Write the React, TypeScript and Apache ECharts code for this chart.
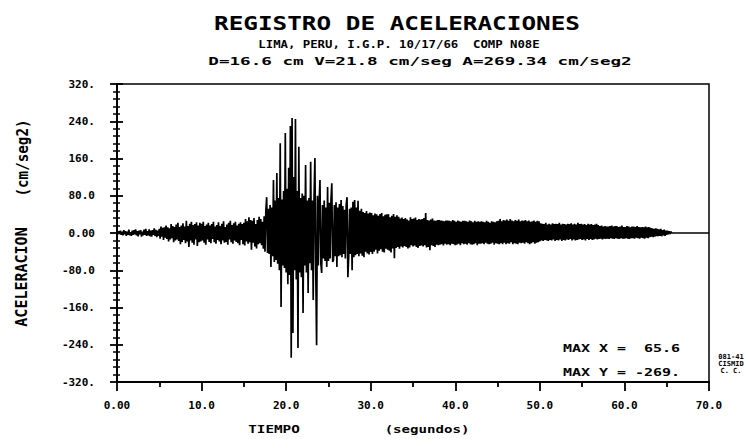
import React, { useEffect, useRef } from "react";
import * as echarts from "echarts";

// ---- data (cm/seg2), sampled every DT seconds, read from the record ----
const DT = 0.1;
const accel = [
  2, -3, 4, -2, 5, -4, 3, -5, 6, -3,
  4, -6, 3, -4, 7, -5, 2, -6, 5, -4,
  6, -3, 8, -5, 4, -7, 5, -3, 6, -8,
  3, -5, 7, -4, 9, -6, 4, -5, 8, -7,
  5, -8, 6, -4, 10, -6, 7, -9, 5, -6,
  9, -12, 14, -8, 11, -15, 12, -10, 16, -13,
  12, -18, 10, -14, 19, -11, 15, -20, 13, -16,
  18, -14, 22, -17, 13, -24, 16, -19, 21, -15,
  14, -22, 26, -18, 15, -30, 20, -16, 24, -21,
  17, -25, 19, -14, 23, -28, 16, -20, 22, -18,
  20, -16, 24, -21, 15, -25, 18, -14, 22, -19,
  16, -22, 19, -13, 24, -20, 14, -23, 17, -15,
  23, -18, 15, -24, 20, -16, 25, -21, 13, -19,
  18, -25, 22, -14, 26, -20, 17, -23, 21, -16,
  24, -19, 16, -22, 20, -26, 23, -15, 19, -24,
  22, -27, 30, -18, 25, -23, 34, -20, 28, -36,
  26, -21, 32, -29, 19, -33, 28, -24, 35, -22,
  30, -26, 24, -34, 36, -40, 48, 77, -43, 52,
  -45, 60, -73, 55, -50, 114, -62, 70, -58, 129,
  -66, 75, -80, 193, -159, 72, -70, 90, -75, 215,
  -85, 95, -110, 140, -90, 230, -268, 247, -215, 120,
  -80, 245, -100, 90, -247, 185, -85, 75, -95, 85,
  -172, 80, -70, 146, -85, 70, -129, 75, -65, 153,
  -80, 70, -144, 75, 161, -75, -241, 80, -70, 65,
  114, -65, -86, 60, -55, 70, -60, 55, -73, 99,
  -60, 65, -55, 70, 107, -62, -58, 60, -50, 66,
  -73, 55, -50, 62, -48, 71, -52, 58, -45, 50,
  -55, 60, 77, -95, -50, 52, -45, 55, -80, 67,
  -52, 71, -48, 55, -45, 69, -50, 48, -44, 52,
  -49, 45, -52, 43, -40, 47, -44, 42, -46, 44,
  -41, 43, -45, 38, -40, 42, -36, 40, -44, 37,
  -38, 41, -35, 43, -40, 36, -42, 39, -34, 40,
  -36, 40, -38, 34, -42, 37, -33, 41, -54, 35,
  -32, 38, -30, 35, -34, 31, -29, 33, -31, 30,
  -28, 32, -30, 29, -33, 27, -31, 34, -26, 30,
  -29, 31, -27, 33, -30, 28, -32, 30, -28, 29,
  -27, 30, -29, 32, -26, 43, -31, 28, -30, 27,
  -37, 29, -26, 31, -28, 27, -30, 26, -25, 28,
  -26, 28, -25, 27, -24, 26, -27, 25, -23, 27,
  -25, 27, -24, 26, -26, 25, -23, 28, -24, 26,
  -26, 24, -25, 27, -23, 25, -26, 24, -22, 26,
  -24, 26, -23, 25, -25, 24, -22, 27, -24, 25,
  -25, 23, -24, 26, -22, 24, -26, 25, -23, 24,
  -23, 25, -22, 24, -24, 23, -21, 26, -23, 24,
  -24, 22, -23, 25, -21, 24, -25, 23, -22, 25,
  -23, 26, -24, 30, -22, 25, -24, 28, -21, 27,
  -24, 29, -22, 26, -23, 30, -20, 27, -24, 25,
  -22, 28, -23, 26, -24, 29, -21, 25, -22, 27,
  -21, 26, -23, 28, -20, 25, -22, 27, -24, 24,
  -22, 25, -20, 27, -23, 24, -21, 26, -20, 25,
  -18, 21, -16, 20, -17, 19, -15, 22, -16, 18,
  -17, 20, -15, 18, -16, 21, -14, 19, -17, 20,
  -15, 19, -16, 22, -14, 18, -17, 20, -15, 19,
  -16, 18, -14, 20, -15, 19, -13, 21, -16, 18,
  -14, 20, -16, 18, -15, 22, -14, 19, -13, 20,
  -15, 18, -14, 19, -16, 17, -13, 20, -15, 18,
  -13, 19, -15, 17, -14, 18, -12, 20, -14, 17,
  -13, 15, -12, 16, -14, 14, -12, 15, -13, 14,
  -12, 14, -13, 15, -11, 16, -12, 14, -13, 15,
  -11, 15, -12, 13, -13, 14, -11, 16, -12, 13,
  -12, 13, -11, 15, -12, 14, -13, 12, -11, 14,
  -11, 14, -12, 13, -10, 15, -11, 13, -12, 12,
  -10, 13, -11, 12, -12, 14, -10, 12, -11, 13,
  -9, 11, -8, 10, -9, 9, -8, 10, -7, 9,
  -7, 8, -6, 9, -7, 6, -5, 7, -6, 5,
  -4, 5, -3, 4, -2, 3,
];
// flat line after the end of the record
const tailTimes = [65.6, 70.0];
const tailAccel = [0, 0];

const X_MIN = 0;
const X_MAX = 70;
const X_STEP = 10;
const Y_MIN = -320;
const Y_MAX = 320;
const Y_STEP = 80;
const xTickLabels = ["0.00", "10.0", "20.0", "30.0", "40.0", "50.0", "60.0", "70.0"];
const yTickLabels = ["-320.", "-240.", "-160.", "-80.0", "0.00", "80.0", "160.", "240.", "320."];

const titleText = "REGISTRO DE ACELERACIONES";
const subtitleText = "LIMA, PERU, I.G.P. 10/17/66  COMP N08E";
const statsText = "D=16.6 cm V=21.8 cm/seg A=269.34 cm/seg2";
const maxXText = "MAX X =  65.6";
const maxYText = "MAX Y = -269.";
const yNameA = "ACELERACION";
const yNameB = "(cm/seg2)";
const xNameA = "TIEMPO";
const xNameB = "(segundos)";
const stampLines = ["081-41", "CISMID", "C. C."];

const MONO = '"DejaVu Sans Mono", monospace';

function txt(
  text: string,
  x: number,
  y: number,
  size: number,
  scaleX: number,
  align: string = "center",
  rotation: number = 0
) {
  return {
    type: "text",
    x,
    y,
    scaleX,
    rotation,
    silent: true,
    style: {
      text,
      x: 0,
      y: 0,
      fill: "#000",
      font: `bold ${size}px ${MONO}`,
      textAlign: align,
      textVerticalAlign: "middle",
    },
  };
}

export default function App() {
  const ref = useRef<HTMLDivElement>(null);
  useEffect(() => {
    const chart = echarts.init(ref.current!, null, { renderer: "svg" });
    const data: number[][] = accel
      .map((v, i) => [Math.round(i * DT * 10) / 10, v])
      .concat(tailTimes.map((t, i) => [t, tailAccel[i]]));

    const labelStyle = {
      color: "#000",
      fontFamily: MONO,
      fontWeight: "bold",
      fontSize: 11,
    };

    const option: any = {
      animation: false,
      backgroundColor: "#fff",
      grid: {
        left: 117,
        right: 42,
        top: 84,
        bottom: 57,
        show: true,
        borderColor: "#000",
        borderWidth: 1.5,
        backgroundColor: "transparent",
        containLabel: false,
        outerBoundsMode: "none",
      },
      xAxis: {
        type: "value",
        min: X_MIN,
        max: X_MAX,
        interval: X_STEP,
        axisLine: { show: true, onZero: false, lineStyle: { color: "#000", width: 2 } },
        axisTick: { show: true, length: 9, lineStyle: { color: "#000", width: 1.8 } },
        minorTick: { show: true, splitNumber: 2, length: 5, lineStyle: { color: "#000", width: 1.8 } },
        splitLine: { show: false },
        minorSplitLine: { show: false },
        axisLabel: {
          ...labelStyle,
          margin: 18,
          formatter: (v: number) => xTickLabels[Math.round((v - X_MIN) / X_STEP)] ?? "",
        },
      },
      yAxis: [
        {
          type: "value",
          position: "left",
          min: Y_MIN,
          max: Y_MAX,
          interval: Y_STEP,
          axisLine: { show: true, onZero: false, lineStyle: { color: "#000", width: 2 } },
          axisTick: { show: true, length: 7, lineStyle: { color: "#000", width: 1.8 } },
          minorTick: { show: true, splitNumber: 5, length: 4, lineStyle: { color: "#000", width: 1.5 } },
          splitLine: { show: false },
          minorSplitLine: { show: false },
          axisLabel: {
            ...labelStyle,
            margin: 22,
            formatter: (v: number) => yTickLabels[Math.round((v - Y_MIN) / Y_STEP)] ?? "",
          },
        },
        {
          type: "value",
          position: "left",
          offset: 0,
          min: Y_MIN,
          max: Y_MAX,
          interval: Y_STEP,
          axisLine: { show: false, onZero: false },
          axisTick: { show: true, inside: true, length: 6, lineStyle: { color: "#000", width: 1.8 } },
          minorTick: { show: true, splitNumber: 5, length: 3, lineStyle: { color: "#000", width: 1.5 } },
          splitLine: { show: false },
          minorSplitLine: { show: false },
          axisLabel: { show: false },
        },
      ],
      series: [
        {
          type: "line",
          xAxisIndex: 0,
          yAxisIndex: 0,
          data,
          showSymbol: false,
          symbol: "none",
          lineStyle: { color: "#000", width: 1.7 },
          silent: true,
        },
      ],
      graphic: [
        txt(titleText, 397, 23, 19, 1.28),
        txt(subtitleText, 399, 44, 11, 1.12),
        txt(statsText, 420, 61, 11, 1.6),
        txt(maxXText, 563, 348, 11, 1.36, "left"),
        txt(maxYText, 563, 372, 11, 1.36, "left"),
        txt(yNameA, 22, 277, 15, 1.0, "center", Math.PI / 2),
        txt(yNameB, 22, 158, 15, 0.95, "center", Math.PI / 2),
        txt(xNameA, 274, 429, 11, 1.3),
        txt(xNameB, 427, 429, 11, 1.28),
        txt(stampLines[0], 731, 357, 7, 1.0),
        txt(stampLines[1], 731, 364, 7, 1.0),
        txt(stampLines[2], 731, 371, 7, 1.0),
      ],
    };
    chart.setOption(option);
    return () => chart.dispose();
  }, []);
  return (
    <div
      ref={ref}
      style={{ position: "fixed", left: 0, top: 0, width: 751, height: 439, background: "#fff" }}
    />
  );
}
